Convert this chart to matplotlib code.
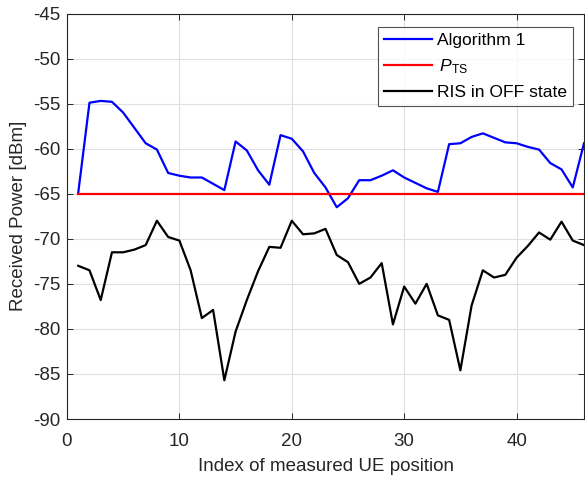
import matplotlib
matplotlib.use("Agg")
import matplotlib.pyplot as plt
import numpy as np

plt.rcParams['font.family'] = ['Liberation Sans', 'DejaVu Sans']
plt.rcParams['mathtext.fontset'] = 'custom'
plt.rcParams['mathtext.rm'] = 'Liberation Sans'
plt.rcParams['mathtext.it'] = 'Liberation Sans:italic'
plt.rcParams['axes.unicode_minus'] = False

idx = list(range(1, 47))
algorithm1 = [-64.9, -54.9, -54.7, -54.8, -56.0, -57.7, -59.4, -60.1, -62.7, -63.0,
              -63.2, -63.2, -63.9, -64.6, -59.2, -60.2, -62.4, -64.0, -58.5, -58.9,
              -60.3, -62.7, -64.3, -66.5, -65.5, -63.5, -63.5, -63.0, -62.4, -63.2,
              -63.8, -64.4, -64.8, -59.5, -59.4, -58.7, -58.3, -58.8, -59.3, -59.4,
              -59.8, -60.1, -61.6, -62.3, -64.3, -59.4]
p_ts = [-65.0] * 46
ris_off = [-73.0, -73.5, -76.8, -71.5, -71.5, -71.2, -70.7, -68.0, -69.8, -70.2,
           -73.5, -78.8, -77.9, -85.7, -80.3, -76.8, -73.6, -70.9, -71.0, -68.0,
           -69.5, -69.4, -68.9, -71.8, -72.6, -75.0, -74.3, -72.7, -79.5, -75.3,
           -77.2, -75.0, -78.5, -79.0, -84.6, -77.4, -73.5, -74.3, -74.0, -72.1,
           -70.8, -69.3, -70.1, -68.1, -70.2, -70.7]
xticks = [0, 10, 20, 30, 40]
yticks = list(range(-90, -44, 5))

fig = plt.figure(figsize=(5.85, 4.79), dpi=100)
ax = fig.add_axes([67/585, 60/479, 517/585, 405.5/479])

ax.plot(idx, algorithm1, color='#0000ff', lw=1.6, label='Algorithm 1')
ax.plot(idx, p_ts, color='#ff0000', lw=1.6, label=r'$\,P_{\rm TS}$')
ax.plot(idx, ris_off, color='#000000', lw=1.6, label='RIS in OFF state')

ax.set_xlim(0, 46)
ax.set_ylim(-90, -45)
ax.set_xticks(xticks)
ax.set_yticks(yticks)
ax.grid(True, color='#dfdfdf', lw=0.8)
ax.set_axisbelow(True)
ax.tick_params(direction='in', length=4, top=True, right=True, labelsize=13.5,
               colors='#262626', width=0.7)
ax.tick_params(axis='x', pad=10)
ax.tick_params(axis='y', pad=5)
for s in ax.spines.values():
    s.set_color('#262626')
    s.set_linewidth(0.8)

ax.set_xlabel('Index of measured UE position', fontsize=13.5, color='#262626', labelpad=6)
ax.set_ylabel('Received Power [dBm]', fontsize=13.5, color='#262626', labelpad=4)

leg = ax.legend(loc='upper right', bbox_to_anchor=(0.979, 0.967), borderaxespad=0,
                fontsize=12.6, frameon=True, fancybox=False, handlelength=2.7,
                handletextpad=0.3, labelspacing=0.5, borderpad=0.35)
leg.get_frame().set_edgecolor('#262626')
leg.get_frame().set_linewidth(0.8)

fig.savefig('out.png', dpi=100)
